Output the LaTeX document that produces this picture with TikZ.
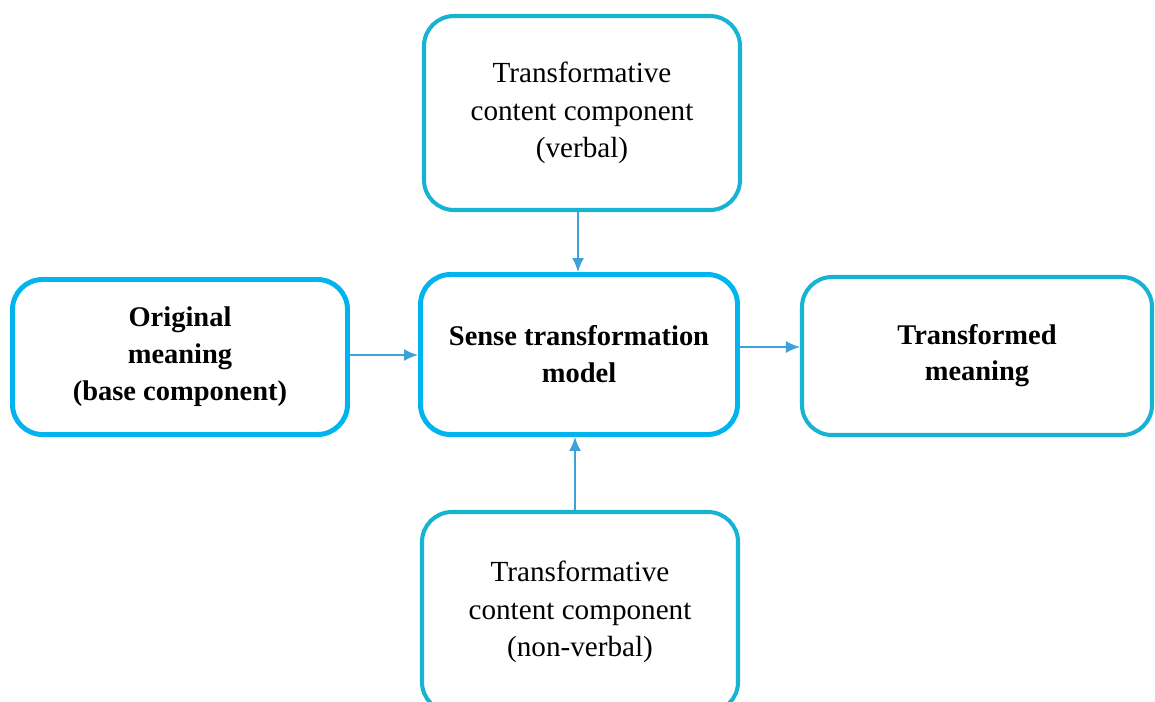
\documentclass[tikz,border=0pt]{standalone}
\usepackage{fontspec}
\setmainfont{Liberation Serif}
\usepackage{tikz}
\usetikzlibrary{calc, positioning, arrows.meta}
\definecolor{BrightCyan}{HTML}{00B4EE}
\definecolor{SoftTeal}{HTML}{17B3D3}
\definecolor{ArrowBlue}{HTML}{3DA2DC}

\begin{document}
\begin{tikzpicture}[
      box/.style={draw=SoftTeal, line width=2.3pt, rounded corners=0.6cm, fill=white,
                  align=center, font=\fontsize{16.6}{21.5}\selectfont},
      keybox/.style={box, draw=BrightCyan, line width=2.8pt, font=\fontsize{16.2}{21}\selectfont\bfseries},
      link/.style={-{Latex[length=0.28cm,width=0.24cm]}, ArrowBlue, line width=1pt}]
      \clip (0,0) rectangle (23.1,-14.02);
      \useasboundingbox (0,0) rectangle (23.1,-14.02);
      % Inputs
      \node[box, minimum width=6.32cm, minimum height=3.88cm] (verbal) at (11.64,-2.26)
            {Transformative\\content component\\(verbal)};
      \node[keybox, minimum width=6.7cm, minimum height=3.1cm] (base) at (3.6,-7.14)
            {Original\\meaning\\(base component)};
      \node[box, minimum width=6.32cm, minimum height=4.0cm] (nonverbal) at (11.6,-12.24)
            {Transformative\\content component\\(non-verbal)};
      % Model and result
      \node[keybox, minimum width=6.34cm, minimum height=3.2cm] (model) at (11.58,-7.09)
            {Sense transformation\\model};
      \node[box, minimum width=7.0cm, minimum height=3.16cm, font=\fontsize{16.2}{20.5}\selectfont\bfseries] (result) at (19.54,-7.12)
            {Transformed\\meaning};
      % Arrows
      \draw[link] ([xshift=-0.08cm]verbal.south) -- ([xshift=-0.08cm]verbal.south |- model.north);
      \draw[link] ([xshift=-0.1cm]nonverbal.north) -- ([xshift=-0.1cm]nonverbal.north |- model.south);
      \draw[link] ([yshift=0.04cm]base.east) -- ([yshift=0.04cm]base.east -| model.west);
      \draw[link] ([yshift=0.15cm]model.east) -- ([yshift=0.15cm]model.east -| result.west);
    \end{tikzpicture}
\end{document}
